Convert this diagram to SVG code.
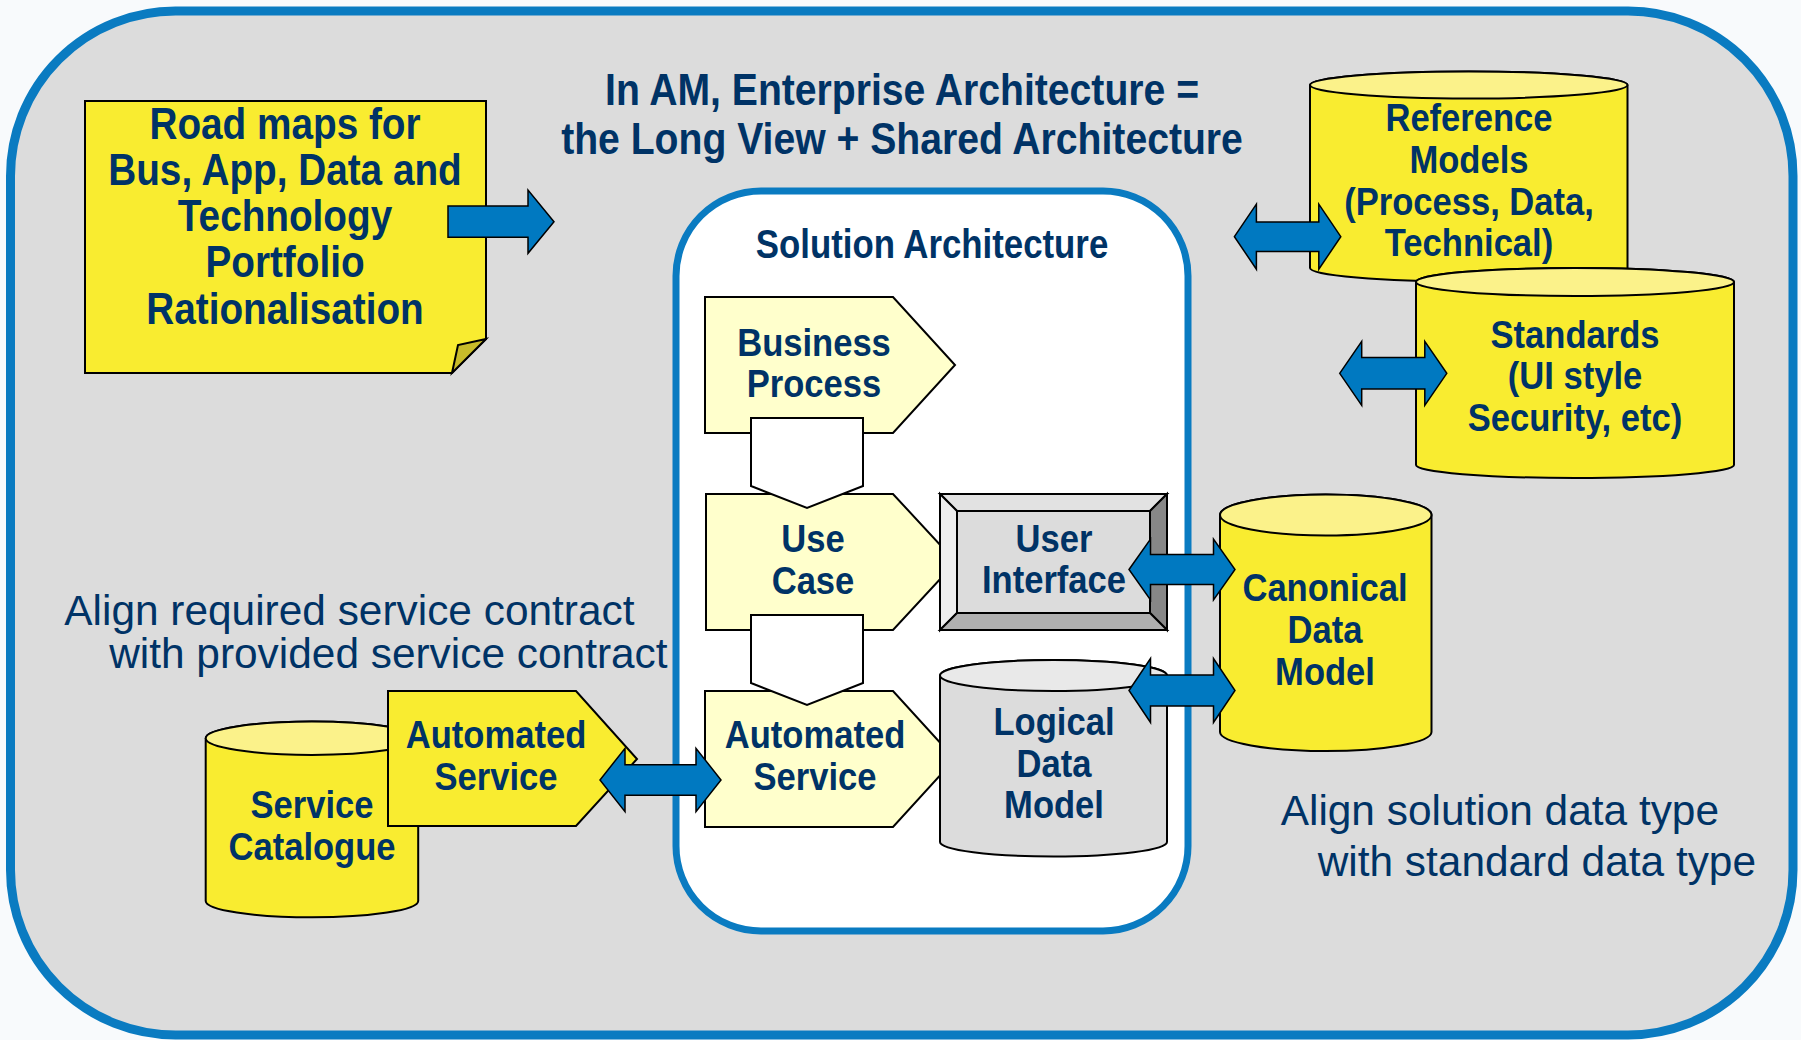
<svg xmlns="http://www.w3.org/2000/svg" width="1801" height="1040" viewBox="0 0 1801 1040">
  <style>
    .frame { fill: #dcdcdc; stroke: #0a7bc1; stroke-width: 9; }
    .sa { fill: #ffffff; stroke: #0a7bc1; stroke-width: 7; }
    .ln { stroke: #000000; stroke-width: 2; stroke-linejoin: miter; }
    .yel { fill: #f9ec30; }
    .yel-top { fill: #fbf28a; }
    .pale { fill: #ffffcc; }
    .grey { fill: #dcdcdc; }
    .grey-top { fill: #e9e9e9; }
    .chev { fill: #ffffff; stroke: #000000; stroke-width: 2; }
    .arrow { fill: #0079c1; stroke: #000000; stroke-width: 1.5; stroke-linejoin: miter; }
    .b { font-family: "Liberation Sans", Arial, sans-serif; font-weight: bold; fill: #003366; text-anchor: middle; }
    .lbl { font-size: 39.5px; }
    .r { font-family: "Liberation Sans", Arial, sans-serif; fill: #003366; font-size: 42.4px; }
  </style>

  <rect width="1801" height="1040" fill="#f8fafc"/>

  <!-- outer enterprise frame -->
  <g id="enterprise-frame">
    <rect class="frame" x="10.5" y="11" width="1782.5" height="1024" rx="165" ry="165"/>
  </g>

  <!-- heading (tspans kept on one line so no stray spaces shift the centring) -->
  <g id="n-title">
    <text class="b" font-size="45" transform="translate(902 0) scale(0.87 1)"><tspan x="0" y="105">In AM, Enterprise Architecture =</tspan><tspan x="0" y="154">the Long View + Shared Architecture</tspan></text>
  </g>

  <!-- road maps note -->
  <g id="n-roadmaps">
    <polygon class="yel ln" points="85,101 486,101 486,339 452,373 85,373"/>
    <polygon class="ln" fill="#c8bc2a" points="452,373 458,345 486,339"/>
    <text class="b" font-size="44" transform="translate(285 0) scale(0.88 1)"><tspan x="0" y="139.5">Road maps for</tspan><tspan x="0" y="185.5">Bus, App, Data and</tspan><tspan x="0" y="231.5">Technology</tspan><tspan x="0" y="277.5">Portfolio</tspan><tspan x="0" y="324">Rationalisation</tspan></text>
  </g>

  <!-- solution architecture container -->
  <g id="n-solution-architecture">
    <rect class="sa" x="676" y="191" width="512" height="740" rx="85" ry="85"/>
    <text class="b" font-size="40" transform="translate(932 0) scale(0.87 1)" x="0" y="258">Solution Architecture</text>
  </g>

  <g id="n-business-process">
    <polygon class="pale ln" points="705,297 893,297 955,365 893,433 705,433"/>
    <text class="b lbl" transform="translate(814 0) scale(0.875 1)"><tspan x="0" y="356">Business</tspan><tspan x="0" y="397">Process</tspan></text>
  </g>

  <g id="n-use-case">
    <polygon class="pale ln" points="706,494 893,494 956,562 893,630 706,630"/>
    <text class="b lbl" transform="translate(813 0) scale(0.875 1)"><tspan x="0" y="552">Use</tspan><tspan x="0" y="594">Case</tspan></text>
  </g>

  <g id="n-automated-service">
    <polygon class="pale ln" points="705,691 893,691 955,759 893,827 705,827"/>
    <text class="b lbl" transform="translate(815 0) scale(0.875 1)"><tspan x="0" y="748.5">Automated</tspan><tspan x="0" y="790">Service</tspan></text>
  </g>

  <!-- bevelled user interface panel -->
  <g id="n-user-interface">
    <polygon class="ln" fill="#e2e2e2" points="940,494 1167,494 1150,511 957,511"/>
    <polygon class="ln" fill="#eeeeee" points="940,494 957,511 957,613 940,630"/>
    <polygon class="ln" fill="#878787" points="1167,494 1167,630 1150,613 1150,511"/>
    <polygon class="ln" fill="#b0b0b0" points="940,630 1167,630 1150,613 957,613"/>
    <rect class="grey ln" x="957" y="511" width="193" height="102"/>
    <text class="b lbl" transform="translate(1054 0) scale(0.875 1)"><tspan x="0" y="552">User</tspan><tspan x="0" y="593.5">Interface</tspan></text>
  </g>

  <g id="n-logical-data-model">
    <path class="grey ln" d="M940,675.5 V842 A113.5,14.5 0 0 0 1167,842 V675.5 A113.5,15.5 0 0 0 940,675.5 Z"/>
    <ellipse class="grey-top ln" cx="1053.5" cy="675.5" rx="113.5" ry="15.5"/>
    <text class="b lbl" transform="translate(1054 0) scale(0.875 1)"><tspan x="0" y="735">Logical</tspan><tspan x="0" y="777">Data</tspan><tspan x="0" y="818.5">Model</tspan></text>
  </g>

  <g id="n-canonical-data-model">
    <path class="yel ln" d="M1220,515 V732 A105.75,19 0 0 0 1431.5,732 V515 A105.75,20.5 0 0 0 1220,515 Z"/>
    <ellipse class="yel-top ln" cx="1325.75" cy="515" rx="105.75" ry="20.5"/>
    <text class="b lbl" transform="translate(1325 0) scale(0.875 1)"><tspan x="0" y="601.5">Canonical</tspan><tspan x="0" y="643.5">Data</tspan><tspan x="0" y="685">Model</tspan></text>
  </g>

  <g id="n-reference-models">
    <path class="yel ln" d="M1310,85 V268 A158.75,13.5 0 0 0 1627.5,268 V85 A158.75,13.5 0 0 0 1310,85 Z"/>
    <ellipse class="yel-top ln" cx="1468.75" cy="85" rx="158.75" ry="13.5"/>
    <text class="b lbl" transform="translate(1469 0) scale(0.875 1)"><tspan x="0" y="131.5">Reference</tspan><tspan x="0" y="173.5">Models</tspan><tspan x="0" y="215">(Process, Data,</tspan><tspan x="0" y="256.5">Technical)</tspan></text>
  </g>

  <g id="n-standards">
    <path class="yel ln" d="M1416,282 V465 A159,13 0 0 0 1734,465 V282 A159,14 0 0 0 1416,282 Z"/>
    <ellipse class="yel-top ln" cx="1575" cy="282" rx="159" ry="14"/>
    <text class="b lbl" transform="translate(1575 0) scale(0.875 1)"><tspan x="0" y="348">Standards</tspan><tspan x="0" y="389.5">(UI style</tspan><tspan x="0" y="431">Security, etc)</tspan></text>
  </g>

  <g id="n-service-catalogue">
    <path class="yel ln" d="M205.7,738.3 V901 A106.25,16.3 0 0 0 418.2,901 V738.3 A106.25,16.7 0 0 0 205.7,738.3 Z"/>
    <ellipse class="yel-top ln" cx="311.95" cy="738.3" rx="106.25" ry="16.7"/>
    <text class="b lbl" transform="translate(312 0) scale(0.875 1)"><tspan x="0" y="818.5">Service</tspan><tspan x="0" y="860">Catalogue</tspan></text>
  </g>

  <g id="n-provided-service">
    <polygon class="yel ln" points="388,691 576,691 637,759 576,826 388,826"/>
    <text class="b lbl" transform="translate(496 0) scale(0.875 1)"><tspan x="0" y="748.5">Automated</tspan><tspan x="0" y="790">Service</tspan></text>
  </g>

  <g id="n-note-service-contract">
    <text class="r"><tspan x="64.3" y="625">Align required service contract</tspan><tspan x="109.2" y="667.5">with provided service contract</tspan></text>
  </g>

  <g id="n-note-data-type">
    <text class="r"><tspan x="1280.7" y="825">Align solution data type</tspan><tspan x="1317.7" y="875.5">with standard data type</tspan></text>
  </g>

  <!-- connectors: process flow chevrons and alignment arrows -->
  <g id="connectors">
    <polygon class="chev" points="751,418 863,418 863,486 807,508 751,486"/>
    <polygon class="chev" points="751,615 863,615 863,683 807,705 751,683"/>
    <polygon class="arrow" points="448,206 528,206 528,190 554,221.7 528,253.3 528,237.3 448,237.3"/>
    <polygon class="arrow" points="1234.4,236.7 1256.4,204.2 1256.4,222 1318.8,222 1318.8,204.2 1340.8,236.7 1318.8,269.2 1318.8,251.4 1256.4,251.4 1256.4,269.2"/>
    <polygon class="arrow" points="1339.7,373.3 1361.7,341.3 1361.7,357.5 1424.8,357.5 1424.8,341.3 1446.8,373.3 1424.8,405.3 1424.8,389.1 1361.7,389.1 1361.7,405.3"/>
    <polygon class="arrow" points="1129,569.5 1150.5,539 1150.5,554.5 1213.5,554.5 1213.5,539 1235,569.5 1213.5,600 1213.5,584.5 1150.5,584.5 1150.5,600"/>
    <polygon class="arrow" points="1129,690.5 1150.5,658.5 1150.5,675 1213.5,675 1213.5,658.5 1235,690.5 1213.5,722.5 1213.5,706 1150.5,706 1150.5,722.5"/>
    <polygon class="arrow" points="600,780 625,748.3 625,764.7 696,764.7 696,748.3 721,780 696,811.7 696,795.3 625,795.3 625,811.7"/>
  </g>
</svg>
